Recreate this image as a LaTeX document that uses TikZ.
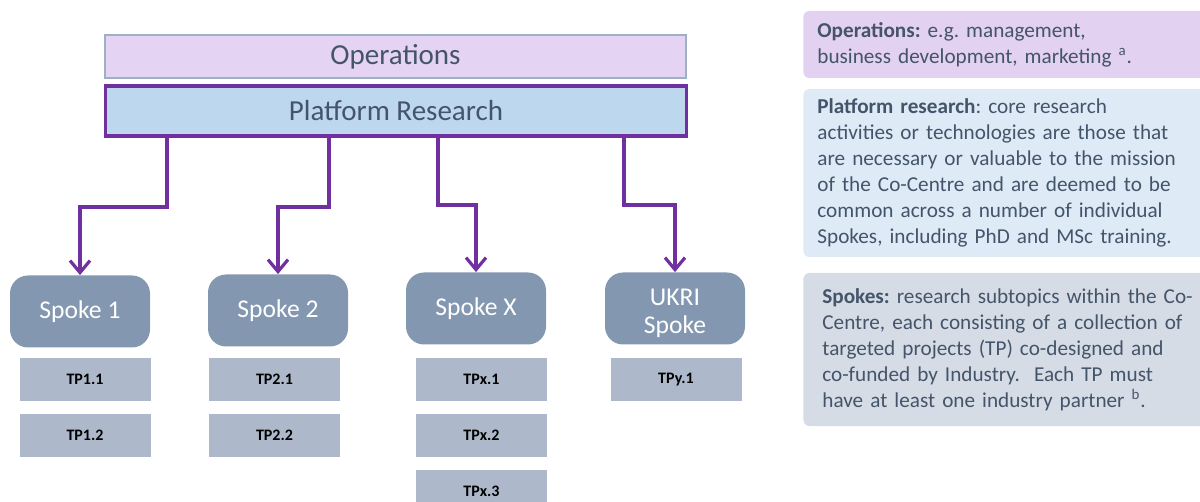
\documentclass[tikz,border=0pt]{standalone}
\usepackage{fontspec}
\setmainfont{Carlito}
\usetikzlibrary{arrows.meta,positioning}
\definecolor{txtslate}{HTML}{44546A}
\definecolor{opsfill}{HTML}{E4D3F2}
\definecolor{opsedge}{HTML}{9DB0C4}
\definecolor{platfill}{HTML}{BDD7EE}
\definecolor{platedge}{HTML}{7030A0}
\definecolor{spokefill}{HTML}{8497B0}
\definecolor{tpfill}{HTML}{ADB9CA}
\definecolor{opsnote}{HTML}{E3D1F1}
\definecolor{platnote}{HTML}{DEEAF6}
\definecolor{spokenote}{HTML}{D6DCE5}
\frenchspacing
\begin{document}
\begin{tikzpicture}[
  x=0.5pt, y=-0.5pt,
  bar/.style={minimum width=290.5pt, text=txtslate, font=\fontsize{14.5}{17}\selectfont},
  spoke/.style={rounded corners=9pt, fill=spokefill, minimum width=70pt, minimum height=36pt, text=white, align=center, font=\fontsize{12.8}{14}\selectfont},
  tp/.style={fill=tpfill, minimum width=65.5pt, minimum height=21.5pt, font=\bfseries\fontsize{8}{9}\selectfont},
  note/.style={rounded corners=3pt, anchor=west, inner xsep=7pt, text width=200pt, align=left, text=txtslate, font=\fontsize{10.6}{13}\selectfont},
  link/.style={draw=platedge, line width=1.6pt, -{Straight Barb[length=6pt,width=10pt]}}
]
  \clip (0,0) rectangle (1200,502);
  % top bars
  \node[bar, fill=opsfill, draw=opsedge, line width=0.6pt, minimum height=21.5pt] (ops) at (395.5,56.5) {Operations};
  \node[bar, fill=platfill, draw=platedge, line width=1.8pt, minimum height=25pt] (plat) at (396,111) {Platform Research};
  % spokes
  \node[spoke] (sp1) at (80,311.5) {Spoke 1};
  \node[spoke] (sp2) at (278,310.5) {Spoke 2};
  \node[spoke] (spx) at (476,308.5) {Spoke X};
  \node[spoke] (spu) at (675,308.5) {\rule{0pt}{13pt}UKRI\\Spoke};
  % targeted projects
  \node[tp] (tp11) at (85,379.5) {TP1.1};
  \node[tp, below=6pt of tp11] (tp12) {TP1.2};
  \node[tp] (tp21) at (274.5,379.5) {TP2.1};
  \node[tp, below=6pt of tp21] (tp22) {TP2.2};
  \node[tp] (tpx1) at (481.5,379.5) {TPx.1};
  \node[tp, below=6pt of tpx1] (tpx2) {TPx.2};
  \node[tp, below=6pt of tpx2] (tpx3) {TPx.3};
  \node[tp] (tpy1) at (676,379.5) {TPy.1};
  % links from platform to spokes
  \coordinate (k1) at (167,207);
  \coordinate (k2) at (329,207);
  \coordinate (kx) at (438,205);
  \coordinate (ku) at (624,205);
  \draw[link] (plat.south -| k1) -- (k1) -| (sp1.north);
  \draw[link] (plat.south -| k2) -- (k2) -| (sp2.north);
  \draw[link] (plat.south -| kx) -- (kx) -| (spx.north);
  \draw[link] (plat.south -| ku) -- (ku) -| (spu.north);
  % notes
  \node[note, fill=opsnote, minimum height=33.5pt] (opsn) at (803,44.5) {\textbf{Operations:} e.g. management,\\business development, marketing \textsuperscript{a}.};
  \node[note, fill=platnote, minimum height=84pt] (platn) at (803,173) {\textbf{Platform research}: core research\\activities or technologies are those that\\are necessary or valuable to the mission\\of the Co-Centre and are deemed to be\\common across a number of individual\\Spokes, including PhD and MSc training.};
  \node[note, fill=spokenote, inner xsep=9.5pt, minimum height=76.5pt] (spon) at (803,349.5) {\textbf{Spokes:} research subtopics within the Co-\\Centre, each consisting of a collection of\\targeted projects (TP) co-designed and\\co-funded by Industry.\ \ Each TP must\\have at least one industry partner \textsuperscript{b}.};
\end{tikzpicture}
\end{document}
